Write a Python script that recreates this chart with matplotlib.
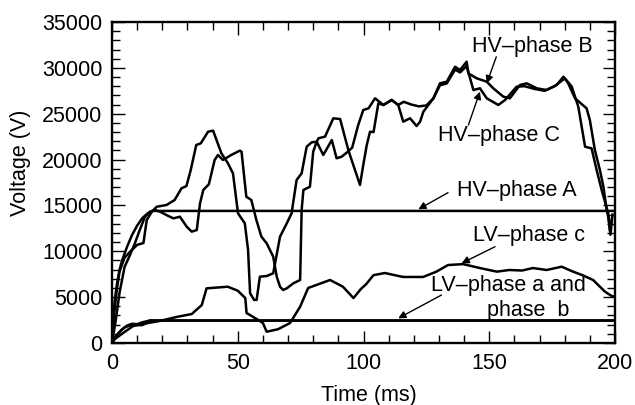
import matplotlib
matplotlib.use('Agg')
import matplotlib.pyplot as plt
from matplotlib.ticker import MultipleLocator

plt.rcParams['font.family'] = ['Liberation Sans', 'DejaVu Sans']

# ----- data ----- #

# HV phase B (left peak near 40 ms)
hv_b_t = [0, 0.5, 1, 2, 3, 5, 7, 8.5, 10, 12.5, 13.8, 15.8, 17.8, 21.7, 24.9, 27.6, 29.6, 31.3,
          33.5, 35.3, 38.2, 40.2, 43.5, 46.1, 48.1, 50.1, 52.8, 54.1, 54.9, 56.5, 57.5, 58.8, 61.5,
          64.1, 66.8, 69.5, 71.4, 73.4, 75.4, 77.4, 79.4, 81.4, 82.1, 84.7, 88, 90.7, 94, 98.6,
          99.9, 101.3, 102.6, 104, 105.9, 107.9, 111.2, 113.8, 116, 119, 122, 125, 127.8, 130.4,
          133.1, 136.4, 138.4, 141, 141.7, 145, 149, 151.6, 155.6, 158.2, 162.2, 164.9, 168.9,
          172.8, 176.8, 179.5, 181.4, 184.1, 188.7, 190, 192, 194, 195.4, 196.7, 197.3, 198, 198.7]
hv_b_v = [0, 2000, 3500, 6000, 7800, 9300, 9900, 10300, 10700, 10900, 13400, 14300, 14860, 15050,
          15590, 16860, 17120, 18860, 21590, 21770, 23040, 23150, 20680, 19590, 18500, 14140, 13050,
          10140, 5420, 4700, 4690, 7230, 7300, 7600, 11590, 13050, 14140, 17770, 18500, 21400, 21880,
          21950, 22320, 22500, 24500, 24420, 21000, 17230, 19400, 21590, 23040, 23000, 26130, 25950,
          26500, 25950, 26300, 26000, 25800, 25900, 26680, 28310, 28490, 30120, 29760, 30670, 29400,
          28860, 28490, 27770, 26860, 26680, 28130, 28310, 27770, 27580, 28130, 29030, 28310, 26680,
          25590, 24310, 21040, 18860, 17040, 14500, 13770, 12200, 13500]

# HV phase C (peak near 50 ms)
hv_c_t = [0, 1.5, 3, 5, 7, 9, 11, 13, 15, 17, 19.1, 22, 24.4, 27, 29.7, 31.7, 33.7, 35, 36.3, 38.5,
          40.8, 42.1, 44.1, 47.4, 50.8, 51.5, 53.4, 55.4, 57.4, 59.4, 61.5, 64.1, 65.5, 66.8, 68,
          69.5, 72.1, 74.8, 75.4, 76.1, 78.7, 80, 81.4, 84, 87.4, 89.3, 91.3, 93.5, 95.5, 97.9, 99.9,
          102, 104.6, 107.9, 111.2, 113.8, 115.8, 118.5, 121.1, 122.5, 123.8, 127.8, 130.4, 133.1,
          136.4, 138.4, 141, 143.7, 146.3, 149, 153.6, 156.3, 160.9, 164, 168, 172, 176, 180.1,
          182.8, 185.4, 188.1, 190.7, 192.7, 194.7, 197.3, 198.2, 199]
hv_c_v = [0, 2500, 5500, 8300, 9500, 10800, 12300, 13700, 14300, 14500, 14320, 13900, 13590, 13770,
          12680, 12140, 12320, 15230, 16680, 17300, 19950, 20500, 19950, 20500, 20970, 20860, 15950,
          15590, 13410, 11590, 10870, 9410, 7230, 6140, 5780, 5960, 6510, 6870, 14500, 16680, 17040,
          20860, 21950, 20500, 22130, 20140, 20310, 20800, 21300, 23770, 25400, 25590, 26680, 25950,
          26500, 25950, 24130, 24500, 23660, 24130, 25220, 26680, 28100, 28300, 29800, 29500, 30200,
          27580, 27770, 26680, 25950, 26500, 27950, 28000, 27700, 27500, 28000, 28860, 27950, 25770,
          21400, 21220, 18860, 16680, 14140, 11800, 14000]

# HV phase A
hv_a_t = [0, 0.5, 1, 2, 3, 4, 6, 8, 10, 12, 14, 16, 17, 200]
hv_a_v = [0, 2500, 4500, 6500, 8000, 9000, 10500, 11800, 12800, 13600, 14100, 14400, 14400, 14400]

# LV phase c
lv_c_t = [0, 1, 4.4, 8.4, 12.4, 19, 25.7, 31.7, 35.7, 37.6, 42, 46, 50, 53, 53.5, 57, 60, 61.5, 66,
          70.8, 74.8, 78, 82, 86.7, 91.8, 96, 99, 101, 104, 108.5, 115.7, 123.7, 129, 133.6, 139.6,
          146.3, 153, 158, 163, 167.4, 172.8, 178.8, 183.3, 187, 191.3, 196, 198.7, 200]
lv_c_v = [0, 400, 1090, 1850, 2100, 2400, 2840, 3160, 4140, 5960, 6050, 6140, 5700, 4900, 3270, 2700,
          2180, 1230, 1500, 2180, 3960, 6000, 6400, 6870, 6140, 4900, 5900, 6400, 7400, 7630, 7200,
          7200, 7780, 8500, 8600, 8170, 7780, 7960, 7900, 8170, 7960, 8320, 7780, 7400, 6870, 5600,
          5120, 5050]

# LV phase a and phase b
lv_a_t = [0, 1, 3, 5, 7, 9, 12, 14, 15, 200]
lv_a_v = [0, 500, 1200, 1700, 1900, 1950, 1950, 2200, 2450, 2450]
lv_b_t = [0, 2, 4, 6, 8, 10, 12, 15, 200]
lv_b_v = [0, 900, 1500, 1900, 2100, 2050, 2250, 2450, 2450]

fs = 15.5

fig = plt.figure(figsize=(6.35, 4.05), dpi=100)
ax = fig.add_axes([0.1764, 0.1531, 0.7921, 0.7926])

for t, v in [(hv_b_t, hv_b_v), (hv_c_t, hv_c_v), (hv_a_t, hv_a_v),
             (lv_c_t, lv_c_v), (lv_a_t, lv_a_v), (lv_b_t, lv_b_v)]:
    ax.plot(t, v, color='black', lw=1.8, solid_joinstyle='round')

ax.set_xlim(0, 200)
ax.set_ylim(0, 35000)
ax.xaxis.set_major_locator(MultipleLocator(50))
ax.xaxis.set_minor_locator(MultipleLocator(10))
ax.yaxis.set_major_locator(MultipleLocator(5000))
ax.yaxis.set_minor_locator(MultipleLocator(1000))
ax.tick_params(which='both', direction='in', top=True, right=True, labelsize=fs, width=1.0)
ax.tick_params(which='major', length=9, pad=7)
ax.tick_params(which='minor', length=6)
for s in ax.spines.values():
    s.set_linewidth(1.7)

ax.set_xlabel('Time (ms)', fontsize=fs)
ax.set_ylabel('Voltage (V)', fontsize=fs)
ax.xaxis.set_label_coords(0.51, -0.13)
ax.yaxis.set_label_coords(-0.162, 0.56)

arrow = dict(arrowstyle='-|>', color='black', lw=1.0, mutation_scale=11, shrinkA=0, shrinkB=0)
ax.text(167, 32300, 'HV–phase B', fontsize=fs, ha='center', va='center')
ax.annotate('', xy=(149, 28310), xytext=(152.8, 31200), arrowprops=arrow)
ax.text(154, 22600, 'HV–phase C', fontsize=fs, ha='center', va='center')
ax.annotate('', xy=(146.3, 27400), xytext=(141.7, 23770), arrowprops=arrow)
ax.text(161, 16600, 'HV–phase A', fontsize=fs, ha='center', va='center')
ax.annotate('', xy=(121.8, 14580), xytext=(133.6, 16390), arrowprops=arrow)
ax.text(165.8, 11670, 'LV–phase c', fontsize=fs, ha='center', va='center')
ax.annotate('', xy=(139, 8690), xytext=(152.3, 10500), arrowprops=arrow)
ax.text(157.7, 6270, 'LV–phase a and', fontsize=fs, ha='center', va='center')
ax.text(165.6, 3540, 'phase  b', fontsize=fs, ha='center', va='center')
ax.annotate('', xy=(113.8, 2690), xytext=(131, 5230), arrowprops=arrow)

fig.savefig('out.png', dpi=100)
